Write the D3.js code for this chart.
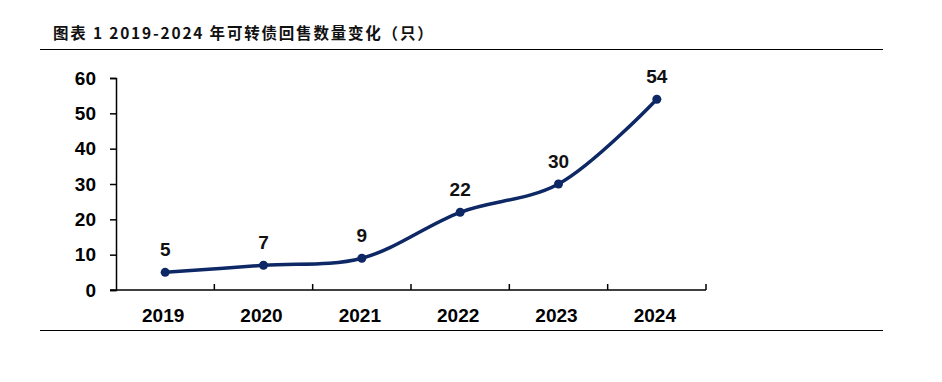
<!DOCTYPE html>
<html>
<head>
<meta charset="utf-8">
<script src="https://cdn.jsdelivr.net/npm/d3@7"></script>
<style>
  body { margin: 0; background: #fff; }
  svg { display: block; }
</style>
</head>
<body>
<div id="chart"></div>
<script>
var years = ["2019", "2020", "2021", "2022", "2023", "2024"];
var counts = [5, 7, 9, 22, 30, 54];
var yTicks = [0, 10, 20, 30, 40, 50, 60];
var title = "图表 1 2019-2024 年可转债回售数量变化（只）";

var W = 942, H = 382;
var lineColor = "#0d2865";

var svg = d3.select("#chart").append("svg")
    .attr("width", W)
    .attr("height", H);

// title + rules
svg.append("text")
    .attr("x", 53)
    .attr("y", 39)
    .style("font-family", "'Noto Sans CJK SC', sans-serif")
    .style("font-weight", "bold")
    .style("font-size", "15.5px")
    .style("letter-spacing", "1.8px")
    .attr("fill", "#111")
    .text(title);

svg.append("line")
    .attr("x1", 40).attr("x2", 883)
    .attr("y1", 49.5).attr("y2", 49.5)
    .attr("stroke", "#000").attr("stroke-width", 1.2);

svg.append("line")
    .attr("x1", 40).attr("x2", 883)
    .attr("y1", 330.5).attr("y2", 330.5)
    .attr("stroke", "#000").attr("stroke-width", 1.2);

// scales
var x = d3.scaleBand().domain(years).range([116, 706]);
var y = d3.scaleLinear().domain([0, 60]).range([290, 78]);

var font = "Arial, 'Liberation Sans', sans-serif";

// y axis
var yAxis = d3.axisLeft(y).tickValues(yTicks).tickSize(6).tickPadding(14);
var gy = svg.append("g")
    .attr("transform", "translate(" + x.range()[0] + ",0)")
    .call(yAxis);
gy.select(".domain").attr("stroke", "#000").attr("stroke-width", 1.5);
gy.selectAll(".tick line").attr("stroke", "#000").attr("stroke-width", 1.5);
gy.selectAll(".tick text")
    .style("font-family", font)
    .style("font-weight", "bold")
    .style("font-size", "19px")
    .attr("fill", "#000");

// x axis, ticks at band boundaries pointing up
var gx = svg.append("g")
    .attr("transform", "translate(0," + y(0) + ")");
gx.append("line")
    .attr("x1", x.range()[0] - 6).attr("x2", x.range()[1])
    .attr("stroke", "#000").attr("stroke-width", 1.5);
var bounds = years.map(function(d){ return x(d) + x.bandwidth(); });
gx.selectAll(".bt")
    .data(bounds)
    .enter().append("line")
    .attr("class", "bt")
    .attr("x1", function(d){ return d; })
    .attr("x2", function(d){ return d; })
    .attr("y1", 0).attr("y2", -6)
    .attr("stroke", "#000").attr("stroke-width", 1.5);
gx.selectAll(".xl")
    .data(years)
    .enter().append("text")
    .attr("class", "xl")
    .attr("x", function(d){ return x(d) + x.bandwidth() / 2 - 2; })
    .attr("y", 32)
    .attr("text-anchor", "middle")
    .style("font-family", font)
    .style("font-weight", "bold")
    .style("font-size", "19px")
    .attr("fill", "#000")
    .text(function(d){ return d; });

// line
var pts = years.map(function(d, i){ return [x(d) + x.bandwidth() / 2, y(counts[i])]; });

svg.append("path")
    .datum(pts)
    .attr("d", d3.line().curve(d3.curveCatmullRom.alpha(0.5)))
    .attr("fill", "none")
    .attr("stroke", lineColor)
    .attr("stroke-width", 3.5);

svg.selectAll(".dot")
    .data(pts)
    .enter().append("circle")
    .attr("class", "dot")
    .attr("cx", function(d){ return d[0]; })
    .attr("cy", function(d){ return d[1]; })
    .attr("r", 4.5)
    .attr("fill", lineColor);

svg.selectAll(".lbl")
    .data(counts)
    .enter().append("text")
    .attr("class", "lbl")
    .attr("x", function(d, i){ return pts[i][0]; })
    .attr("y", function(d, i){ return pts[i][1] - 16; })
    .attr("text-anchor", "middle")
    .style("font-family", font)
    .style("font-weight", "bold")
    .style("font-size", "19px")
    .attr("fill", "#111")
    .text(function(d){ return d; });
</script>
</body>
</html>
